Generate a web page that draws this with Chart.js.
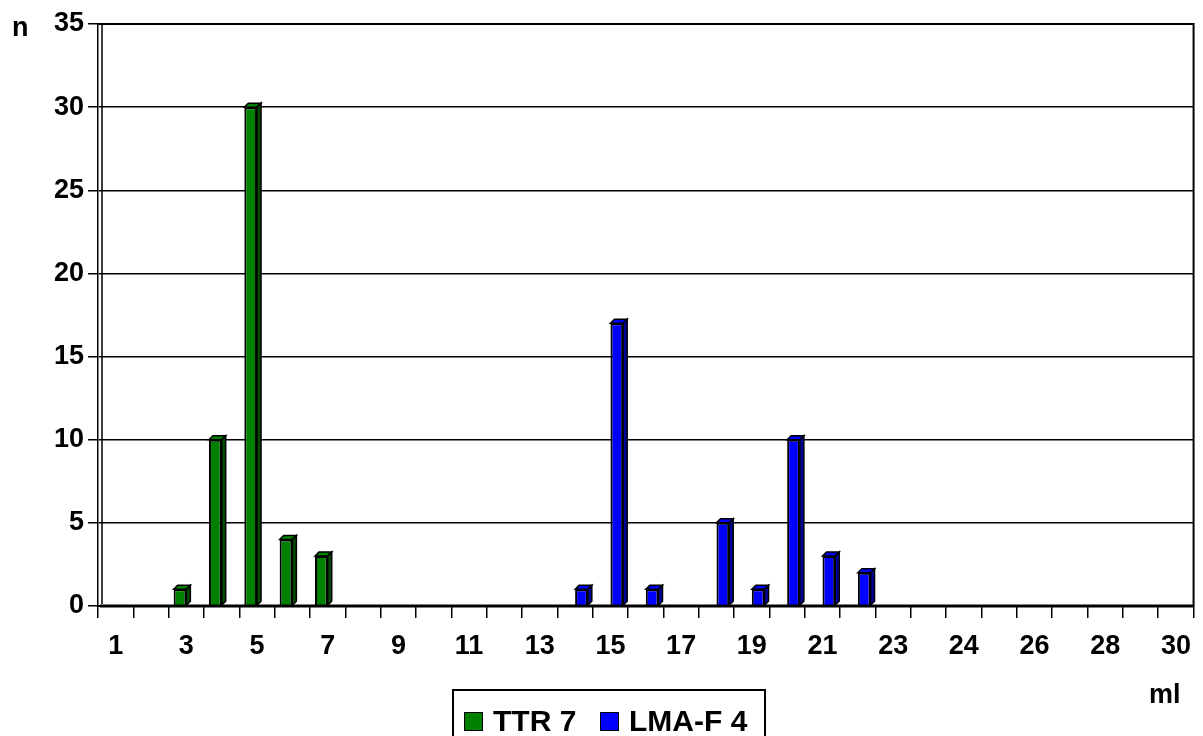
<!DOCTYPE html>
<html>
<head>
<meta charset="utf-8">
<script src="https://cdn.jsdelivr.net/npm/chart.js@4"></script>
<style>
  html, body { margin: 0; padding: 0; background: #fff; }
  #wrap { position: relative; width: 1203px; height: 736px; overflow: hidden; }
  #legend {
    position: absolute; left: 452px; top: 689px; width: 314px; height: 60px;
    border: 2px solid #000; box-sizing: border-box;
    font: bold 30px "Liberation Sans", Arial, sans-serif; color: #000;
  }
  #legend .item { position: absolute; top: 13px; display: flex; align-items: center; height: 34px; }
  #legend .sw { width: 17px; height: 17px; border: 1px solid #000; margin-right: 10px; }
</style>
</head>
<body>
<div id="wrap">
  <canvas id="chart" width="1203" height="736"></canvas>
  <div id="legend">
    <div class="item" style="left:10px"><span class="sw" style="background:#008000"></span>TTR 7</div>
    <div class="item" style="left:146px"><span class="sw" style="background:#0000ff"></span>LMA-F 4</div>
  </div>
</div>
<script>
// x categories (one unlabeled slot between 23 and 24 in the original)
const categories = ['1','2','3','4','5','6','7','8','9','10','11','12','13','14','15','16','17','18','19','20','21','22','23','','24','25','26','27','28','29','30'];
const ttr7 =  [0,0,1,10,30,4,3,0,0,0,0,0,0,0,0,0,0,0,0,0,0,0,0,0,0,0,0,0,0,0,0];
const lmaF4 = [0,0,0,0,0,0,0,0,0,0,0,0,0,1,17,1,0,5,1,10,3,2,0,0,0,0,0,0,0,0,0];
const yTicks = [0, 5, 10, 15, 20, 25, 30, 35];

const FONT = '"Liberation Sans", Arial, sans-serif';

// pseudo 3D faces + frame + axis captions
const deco = {
  id: 'deco',
  afterDatasetsDraw(chart) {
    const ctx = chart.ctx;
    const d = 4;
    const sideCols = ['#004d00', '#00009a'];
    chart.data.datasets.forEach((ds, i) => {
      chart.getDatasetMeta(i).data.forEach((bar, j) => {
        if (!ds.data[j]) return;
        const p = bar.getProps(['x', 'y', 'base', 'width'], true);
        const l = p.x - p.width / 2, r = p.x + p.width / 2;
        ctx.save();
        ctx.lineWidth = 1.5;
        ctx.strokeStyle = '#000';
        // top
        ctx.beginPath();
        ctx.moveTo(l, p.y); ctx.lineTo(l + d, p.y - d); ctx.lineTo(r + d, p.y - d); ctx.lineTo(r, p.y);
        ctx.closePath();
        ctx.fillStyle = ds.backgroundColor; ctx.fill(); ctx.stroke();
        // side
        ctx.beginPath();
        ctx.moveTo(r, p.y); ctx.lineTo(r + d, p.y - d); ctx.lineTo(r + d, p.base - d); ctx.lineTo(r, p.base);
        ctx.closePath();
        ctx.fillStyle = sideCols[i]; ctx.fill(); ctx.stroke();
        ctx.restore();
      });
    });
  },
  afterDraw(chart) {
    const ctx = chart.ctx, a = chart.chartArea;
    ctx.save();
    ctx.strokeStyle = '#000';
    ctx.lineWidth = 2;
    ctx.beginPath();
    ctx.moveTo(a.left, a.top); ctx.lineTo(a.right, a.top); ctx.lineTo(a.right, a.bottom);
    ctx.stroke();
    // back wall line
    ctx.lineWidth = 1.5;
    ctx.beginPath();
    ctx.moveTo(a.left + 4, a.top); ctx.lineTo(a.left + 4, a.bottom - 2);
    ctx.stroke();
    // thick floor line
    ctx.lineWidth = 3;
    ctx.beginPath();
    ctx.moveTo(a.left + 2, a.bottom); ctx.lineTo(a.right, a.bottom);
    ctx.stroke();
    ctx.fillStyle = '#000';
    ctx.font = 'bold 27px ' + FONT;
    ctx.textBaseline = 'alphabetic';
    ctx.fillText('n', 12, 36);
    ctx.fillText('ml', 1149, 703);
    ctx.restore();
  }
};

new Chart(document.getElementById('chart'), {
  type: 'bar',
  data: {
    labels: categories,
    datasets: [
      { label: 'TTR 7', data: ttr7, backgroundColor: '#008000', borderColor: '#000', borderWidth: 2 },
      { label: 'LMA-F 4', data: lmaF4, backgroundColor: '#0000ff', borderColor: '#000', borderWidth: 2 }
    ]
  },
  options: {
    responsive: false,
    animation: false,
    events: [],
    layout: { padding: { left: 0, right: 5, top: 24, bottom: 0 } },
    datasets: { bar: { categoryPercentage: 0.72, barPercentage: 1.0 } },
    plugins: { legend: { display: false }, tooltip: { enabled: false } },
    scales: {
      x: {
        afterFit(s) { s.height = 130; },
        grid: { offset: true, drawOnChartArea: false, drawTicks: true, tickLength: 12, color: '#000', lineWidth: 1.5 },
        border: { display: true, color: '#000', width: 2 },
        ticks: {
          autoSkip: false, maxRotation: 0, padding: 12, color: '#000',
          font: { family: FONT, size: 27, weight: 'bold' },
          callback(v, i) { return i % 2 === 0 ? categories[i] : ''; }
        }
      },
      y: {
        min: 0, max: 35,
        afterFit(s) { s.width = 98; },
        afterBuildTicks(s) { s.ticks = yTicks.map(v => ({ value: v })); },
        grid: { color: '#000', lineWidth: 1.5, tickLength: 10 },
        border: { display: true, color: '#000', width: 1.5 },
        ticks: { padding: 4, color: '#000', font: { family: FONT, size: 27, weight: 'bold' } }
      }
    }
  },
  plugins: [deco]
});
</script>
</body>
</html>
